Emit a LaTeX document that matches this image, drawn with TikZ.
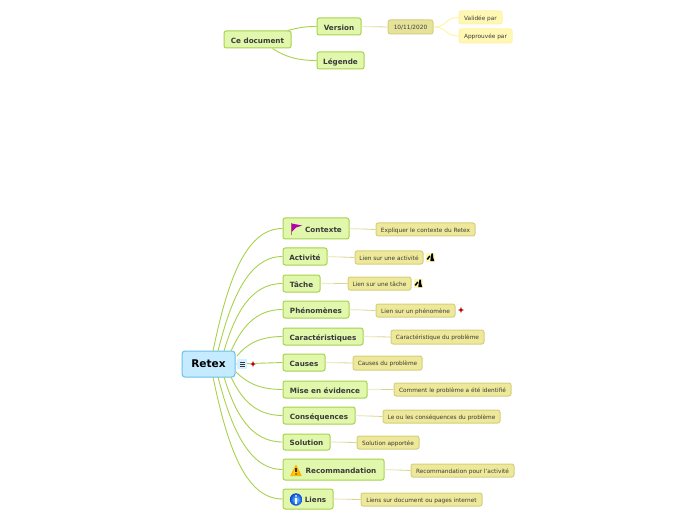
\documentclass[tikz,border=0pt]{standalone}
\usepackage{fontspec}
\setmainfont{DejaVu Sans}
\usetikzlibrary{calc}
\definecolor{lineG}{HTML}{A8D24E}
\definecolor{greenF}{HTML}{E0F7AC}
\definecolor{blueF}{HTML}{C4EBFF}
\definecolor{blueD}{HTML}{68C0EE}
\definecolor{oliveF}{HTML}{EDE89A}
\definecolor{oliveD}{HTML}{D4D07C}
\definecolor{dateF}{HTML}{E6E29A}
\definecolor{yelF}{HTML}{FFF8B4}
\definecolor{yelD}{HTML}{FFF3A6}
\definecolor{paleL}{HTML}{EFECCB}
\definecolor{darkL}{HTML}{D8D68E}
\definecolor{txt}{HTML}{3A3A3A}
\tikzset{
  x=1bp,y=-1bp,
  bx/.style={rounded corners=2.2bp,inner sep=0pt,text=txt,line width=1bp,align=center,text depth=0pt,text height=.72em},
  rootbox/.style={bx,draw=blueD,fill=blueF,text=black,font=\bfseries\fontsize{10.6bp}{12bp}\selectfont,rounded corners=3bp},
  mainbox/.style={bx,draw=lineG,fill=greenF,font=\bfseries\fontsize{7.2bp}{8bp}\selectfont},
  subbox/.style={bx,draw=oliveD,fill=oliveF,font=\fontsize{5.8bp}{7bp}\selectfont,text height=.55em},
  datebox/.style={subbox,fill=dateF},
  leafbox/.style={bx,draw=yelD,fill=yelF,font=\fontsize{5.8bp}{7bp}\selectfont,text height=.55em},
  link/.style={draw=lineG,line width=.9bp},
  leaflink/.style={draw=yelD,line width=.9bp},
  wirea/.style={draw=paleL,line width=1.2bp},
  wireb/.style={draw=darkL,line width=.8bp},
}
% name, x0, y0, x1, y1, style, text
\newcommand{\bxn}[7]{\node[#6,minimum width=#4bp-#2bp,minimum height=#5bp-#3bp] (#1) at ({(#2+#4)/2},{(#3+#5)/2}) {#7};}
\newcommand{\rlk}[7]{\draw[link] ([shift={(#1,#2)}]retex.center) .. controls +(#4,#5) and ($(#3.west)+(#6,#7)$) .. (#3.west);}
\newcommand{\wire}[2]{\draw[wirea] (#1.east) -- ($(#1.east)!.5!(#2.west)$);\draw[wireb] ($(#1.east)!.5!(#2.west)$) -- (#2.west);}
\newcommand{\toolicon}[2]{\begin{scope}[shift={(#1,#2)}]
  \fill[yelF] (-4.5,-4.5) rectangle (4.5,4.5);
  \fill[black] (-4,1.5) -- (-1.2,-2) -- (-.2,-1) -- (-2.6,2.4) -- cycle;
  \fill[black] (.3,-1) -- (1,-4) -- (2.4,-4) -- (2.7,0) -- (3.8,3.6) -- (-.2,3.6) -- cycle;
\end{scope}}
\newcommand{\bugicon}[2]{\begin{scope}[shift={(#1,#2)}]
  \fill[red!30!gray!40,opacity=.8] (-3.4,-1) rectangle (3.4,1);
  \fill[red!30!gray!40,opacity=.8] (-1,-3.4) rectangle (1,3.4);
  \fill[red!70!black] (0,0) circle (1.8);
\end{scope}}
\begin{document}
\begin{tikzpicture}
\useasboundingbox (0,0) rectangle (696,520);
\fill[white] (0,0) rectangle (696,520);
\bxn{doc}{224}{31}{291}{48}{mainbox}{Ce document}
\bxn{version}{317}{18}{361}{35}{mainbox}{Version}
\bxn{legende}{317}{52}{364}{69}{mainbox}{Légende}
\bxn{date}{388}{20}{433}{34}{datebox}{10/11/2020}
\bxn{valid}{459}{11}{502}{24}{leafbox}{Validée par}
\bxn{appr}{459}{29}{512}{43}{leafbox}{Approuvée par}
\draw[link] ([xshift=-4bp]doc.north east) .. controls +(12,-3) and +(-12,0) .. (version.west);
\draw[link] ([xshift=15bp]doc.south) .. controls +(14,9) and +(-18,0) .. (legende.west);
\wire{version}{date}
\draw[leaflink] (date.east) .. controls +(14,0) and +(-14,0) .. (valid.west);
\draw[leaflink] (date.east) .. controls +(14,0) and +(-14,0) .. (appr.west);
% main map
\bxn{retex}{182}{351}{235}{377}{rootbox}{Retex}
\bxn{ctx}{283}{218}{349}{239}{mainbox}{\hspace*{15bp}Contexte}
\bxn{act}{283}{248}{327}{265}{mainbox}{Activité}
\bxn{tache}{283}{275}{320}{292}{mainbox}{Tâche}
\bxn{phe}{283}{301}{349}{318}{mainbox}{Phénomènes}
\bxn{car}{283}{328}{363}{345}{mainbox}{Caractéristiques}
\bxn{cau}{283}{354}{325}{371}{mainbox}{Causes}
\bxn{mis}{283}{381}{367}{398}{mainbox}{Mise en évidence}
\bxn{con}{283}{407}{355}{424}{mainbox}{Conséquences}
\bxn{sol}{283}{434}{330}{450}{mainbox}{Solution}
\bxn{rec}{283}{459}{384}{480}{mainbox}{\hspace*{15bp}Recommandation}
\bxn{lie}{283}{489}{333}{509}{mainbox}{\hspace*{15bp}Liens}
\bxn{sctx}{376}{223}{475}{236}{subbox}{Expliquer le contexte du Retex}
\bxn{sact}{355}{251}{423}{264}{subbox}{Lien sur une activité}
\bxn{stache}{348}{277}{411}{290}{subbox}{Lien sur une tâche}
\bxn{sphe}{376}{304}{455}{317}{subbox}{Lien sur un phénomène}
\bxn{scar}{391}{330}{484}{344}{subbox}{Caractéristique du problème}
\bxn{scau}{353}{356}{422}{370}{subbox}{Causes du problème}
\bxn{smis}{394}{383}{511}{396}{subbox}{Comment le problème a été identifié}
\bxn{scon}{383}{410}{500}{423}{subbox}{Le ou les conséquences du problème}
\bxn{ssol}{357}{436}{419}{449}{subbox}{Solution apportée}
\bxn{srec}{411}{464}{514}{477}{subbox}{Recommandation pour l’activité}
\bxn{slie}{361}{493}{482}{506}{subbox}{Liens sur document ou pages internet}
% connectors from the root
\rlk{4.5}{-13}{ctx}{14}{-67}{-38}{0}
\rlk{9.5}{-13}{act}{13}{-52}{-34}{0}
\rlk{15.5}{-13}{tache}{11}{-37}{-32}{0}
\rlk{22.5}{-13}{phe}{10}{-22}{-28}{0}
\rlk{28.5}{-8}{car}{9}{-11}{-24}{0}
\rlk{27.5}{8}{mis}{10}{10}{-24}{0}
\rlk{22.5}{13}{con}{10}{21}{-28}{0}
\rlk{15.5}{13}{sol}{11}{36}{-32}{0}
\rlk{9.5}{13}{rec}{13}{50}{-34}{0}
\rlk{4.5}{13}{lie}{14}{67}{-38}{0}
\draw[link] (retex.east) -- (cau.west);
\wire{ctx}{sctx}\wire{act}{sact}\wire{tache}{stache}\wire{phe}{sphe}\wire{car}{scar}\wire{cau}{scau}
\wire{mis}{smis}\wire{con}{scon}\wire{sol}{ssol}\wire{rec}{srec}\wire{lie}{slie}
% list icon
\fill[blueF!70!white,rounded corners=1bp] (237,359) rectangle (247,369);
\draw[txt,line width=.7bp] (239.5,362) -- (244.5,362) (239.5,364) -- (244.5,364) (239.5,366) -- (244.5,366);
\bugicon{253}{364}
\bugicon{461}{310}
\toolicon{430.5}{257.5}
\toolicon{418.5}{283.5}
% flag
\draw[brown!60!gray,line width=.8bp] (291,223) -- (291,235);
\fill[violet!60!magenta] (291.5,223.5) -- (302,225.5) -- (296,227.5) -- (291.5,232) -- cycle;
% warning
\fill[orange!60!yellow,rounded corners=.8bp] (290,476) -- (296,464.5) -- (302,476) -- cycle;
\fill[yellow!70!orange] (292,475) -- (296,467) -- (296.5,475) -- cycle;
\fill[black!80] (295.4,467.8) rectangle (296.6,472.3);
\fill[black!80] (296,474) circle (.8);
% info
\shade[inner color=blue!30!cyan!50!white,outer color=blue!70!cyan!85!black] (296,499.5) circle (6.2);
\fill[white] (295.2,498) rectangle (296.8,503.5);
\fill[white] (296,495.8) circle (1);
\end{tikzpicture}
\end{document}
